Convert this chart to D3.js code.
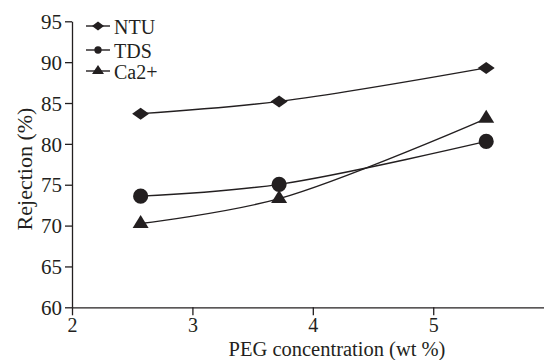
<!DOCTYPE html>
<html>
<head>
<meta charset="utf-8">
<script src="https://cdn.jsdelivr.net/npm/d3@7"></script>
<style>
  body { margin: 0; background: #fff; }
  svg text { font-family: "Liberation Serif", "Times New Roman", serif !important; fill: #231f20; }
</style>
</head>
<body>
<svg id="chart"></svg>
<script>
// ---------------- data ----------------
const peg = [2.57, 3.72, 5.44];
const ntu = [83.7, 85.2, 89.3];
const tds = [73.6, 75.05, 80.3];
const ca = [70.25, 73.3, 83.1];
const seriesNames = ['NTU', 'TDS', 'Ca2+'];
const xTicks = [2, 3, 4, 5];
const yTicks = [60, 65, 70, 75, 80, 85, 90, 95];

const width = 544, height = 360;
const ink = '#231f20';

const svg = d3.select('#chart')
  .attr('width', width)
  .attr('height', height);

//--------- scales
const x = d3.scaleLinear().domain([2, 5.92]).range([72, 544]);
const y = d3.scaleLinear().domain([60, 95]).range([307.3, 21.3]);

//--------- axes
const xAxis = svg.append('g')
  .attr('transform', `translate(0,${y(60)})`)
  .call(d3.axisBottom(x).tickValues(xTicks).tickFormat(d3.format('d'))
    .tickSize(8).tickSizeOuter(0).tickPadding(3));
const yAxis = svg.append('g')
  .attr('transform', `translate(${x(2)},0)`)
  .call(d3.axisLeft(y).tickValues(yTicks).tickFormat(d3.format('d'))
    .tickSize(7).tickSizeOuter(0).tickPadding(3));

[xAxis, yAxis].forEach(a => {
  a.attr('font-family', null).attr('font-size', 21);
  a.select('.domain').attr('stroke', ink).attr('stroke-width', 1.3);
  a.selectAll('.tick line').attr('stroke', ink).attr('stroke-width', 1.3);
  a.selectAll('.tick text').attr('fill', ink);
});
xAxis.attr('font-size', 20);
yAxis.selectAll('.tick text').attr('dy', '0.34em');

//--------- axis titles
svg.append('text')
  .attr('x', 337).attr('y', 356)
  .attr('text-anchor', 'middle')
  .attr('font-size', 20.5)
  .text('PEG concentration (wt %)');

svg.append('text')
  .attr('transform', 'translate(32,169) rotate(-90)')
  .attr('text-anchor', 'middle')
  .attr('font-size', 22)
  .text('Rejection (%)');

//--------- symbols (width, height in px)
const diamond = (w, h) => ({
  draw(ctx) {
    ctx.moveTo(0, -h / 2); ctx.lineTo(w / 2, 0);
    ctx.lineTo(0, h / 2); ctx.lineTo(-w / 2, 0); ctx.closePath();
  }
});
const triangle = (w, h) => ({
  draw(ctx) {
    ctx.moveTo(0, -2 * h / 3); ctx.lineTo(w / 2, h / 3);
    ctx.lineTo(-w / 2, h / 3); ctx.closePath();
  }
});
const markers = [diamond(17, 12), d3.symbolCircle, triangle(16, 13)];
const markerSize = [1, 180, 1];
const legendMarkers = [diamond(12, 9), d3.symbolCircle, triangle(12, 9)];
const legendSize = [1, 42, 1];
const values = [ntu, tds, ca];

const line = d3.line()
  .x(d => x(d[0]))
  .y(d => y(d[1]))
  .curve(d3.curveCatmullRom.alpha(0.5));

values.forEach((vals, i) => {
  const pts = peg.map((p, j) => [p, vals[j]]);
  svg.append('path')
    .datum(pts)
    .attr('fill', 'none')
    .attr('stroke', ink)
    .attr('stroke-width', 1.4)
    .attr('d', line);

  svg.selectAll(null)
    .data(pts)
    .enter()
    .append('path')
      .attr('transform', d => `translate(${x(d[0])},${y(d[1])})`)
      .attr('d', d3.symbol().type(markers[i]).size(markerSize[i]))
      .attr('fill', ink);
});

//--------- legend
const legendY = [26, 50, 71];
seriesNames.forEach((name, i) => {
  const g = svg.append('g').attr('transform', `translate(0,${legendY[i]})`);
  g.append('line')
    .attr('x1', 86).attr('x2', 110)
    .attr('stroke', ink).attr('stroke-width', 1.4);
  g.append('path')
    .attr('transform', 'translate(98,0)')
    .attr('d', d3.symbol().type(legendMarkers[i]).size(legendSize[i]))
    .attr('fill', ink);
  g.append('text')
    .attr('x', 114).attr('y', 8)
    .attr('font-size', 20)
    .text(name);
});
</script>
</body>
</html>
